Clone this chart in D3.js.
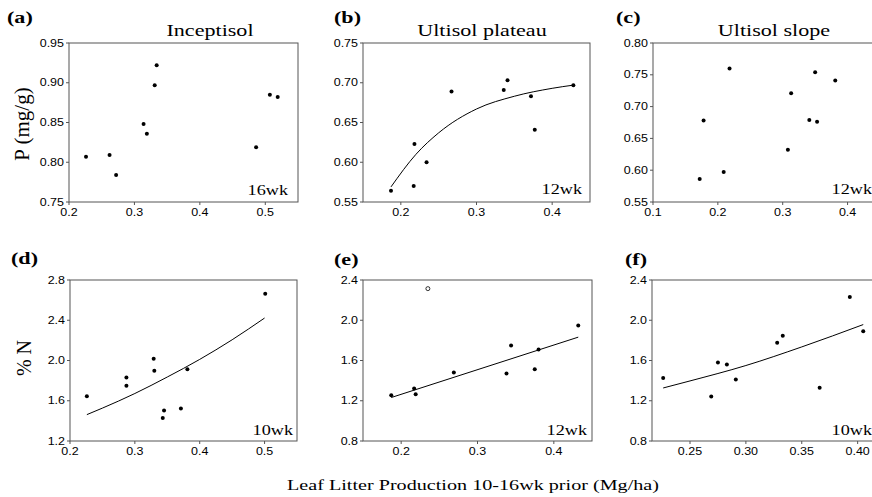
<!DOCTYPE html>
<html>
<head>
<meta charset="utf-8">
<script src="https://cdn.jsdelivr.net/npm/d3@7"></script>
<style>
  body { margin: 0; background: #fff; }
  svg { display: block; }
  .frame { fill: none; stroke: #555; stroke-width: 1; }
  .ticklab { font-family: "Liberation Sans", Arial, sans-serif; fill: #000; }
  .serif { font-family: "Liberation Serif", "Times New Roman", serif; fill: #000; }
  .fit { fill: none; stroke: #000; stroke-width: 1; }
</style>
</head>
<body>
<svg width="872" height="497"></svg>
<script>
// values
var panelLabels = ['(a)', '(b)', '(c)', '(d)', '(e)', '(f)'];
var siteNames = ['Inceptisol', 'Ultisol plateau', 'Ultisol slope'];
var lagLabels = ['16wk', '12wk', '12wk', '10wk', '12wk', '10wk'];

var xDomains = [[0.2, 0.55], [0.15, 0.45], [0.1, 0.45], [0.2, 0.55], [0.15, 0.45], [0.216, 0.42]];
var yDomains = [[0.75, 0.95], [0.55, 0.75], [0.55, 0.80], [1.2, 2.8], [0.8, 2.4], [0.8, 2.4]];
var xTicks = [[0.2, 0.3, 0.4, 0.5], [0.2, 0.3, 0.4], [0.1, 0.2, 0.3, 0.4], [0.2, 0.3, 0.4, 0.5], [0.2, 0.3, 0.4], [0.25, 0.30, 0.35, 0.40]];
var yTicks = [[0.75, 0.80, 0.85, 0.90, 0.95], [0.55, 0.60, 0.65, 0.70, 0.75], [0.55, 0.60, 0.65, 0.70, 0.75, 0.80],
              [1.2, 1.6, 2.0, 2.4, 2.8], [0.8, 1.2, 1.6, 2.0, 2.4], [0.8, 1.2, 1.6, 2.0, 2.4]];
var xFormats = ['.1f', '.1f', '.1f', '.1f', '.1f', '.2f'];
var yFormats = ['.2f', '.2f', '.2f', '.1f', '.1f', '.1f'];

var inceptisolP = [[0.226, 0.807], [0.262, 0.809], [0.272, 0.784], [0.314, 0.848], [0.319, 0.836],
                   [0.331, 0.897], [0.334, 0.922], [0.486, 0.819], [0.507, 0.885], [0.519, 0.882]];
var plateauP = [[0.187, 0.564], [0.217, 0.570], [0.218, 0.623], [0.234, 0.600], [0.267, 0.689],
                [0.336, 0.691], [0.341, 0.703], [0.372, 0.683], [0.377, 0.641], [0.428, 0.697]];
var slopeP = [[0.172, 0.586], [0.178, 0.678], [0.209, 0.597], [0.218, 0.760], [0.308, 0.632],
              [0.313, 0.721], [0.341, 0.679], [0.350, 0.754], [0.353, 0.676], [0.381, 0.741]];
var inceptisolN = [[0.226, 1.645], [0.287, 1.831], [0.287, 1.748], [0.329, 2.017], [0.330, 1.897],
                   [0.343, 1.429], [0.345, 1.502], [0.371, 1.522], [0.381, 1.914], [0.501, 2.664]];
var plateauN = [[0.187, 1.255], [0.217, 1.321], [0.219, 1.265], [0.269, 1.481], [0.338, 1.471],
                [0.344, 1.749], [0.375, 1.514], [0.380, 1.710], [0.432, 1.949]];
var plateauNOutlier = [[0.235, 2.314]];
var slopeN = [[0.226, 1.427], [0.269, 1.243], [0.275, 1.580], [0.283, 1.560], [0.291, 1.410],
              [0.328, 1.777], [0.333, 1.847], [0.366, 1.330], [0.393, 2.230], [0.405, 1.890]];

// fitted curves
var plateauPFit = [[0.187, 0.569], [0.22, 0.610], [0.25, 0.637], [0.30, 0.667], [0.35, 0.683], [0.40, 0.693], [0.428, 0.697]];
var inceptisolNFit = [[0.226, 1.462], [0.25, 1.527], [0.30, 1.672], [0.35, 1.836], [0.40, 2.011], [0.45, 2.206], [0.50, 2.422]];
var plateauNFit = [[0.187, 1.232], [0.432, 1.832]];
var slopeNFit = [[0.226, 1.327], [0.25, 1.397], [0.30, 1.550], [0.35, 1.735], [0.405, 1.957]];

var dotSets = [inceptisolP, plateauP, slopeP, inceptisolN, plateauN, slopeN];
var fitSets = [null, plateauPFit, null, inceptisolNFit, plateauNFit, slopeNFit];

// layout (pixels)
var frames = [
  {l: 69, r: 298, t: 43, b: 202}, {l: 363, r: 590, t: 43, b: 202}, {l: 653, r: 880, t: 43, b: 202},
  {l: 70, r: 297, t: 280, b: 441}, {l: 363, r: 592, t: 280, b: 441}, {l: 652, r: 880, t: 280, b: 441}
];
var labelPos = [[7, 23], [334, 23], [616, 23], [11, 264], [334, 265], [625, 265]];
var lagPos = [[288, 195], [582, 194], [872, 194], [293, 435], [587, 435], [872, 435]];
var titlePos = [[210, 36], [482, 36], [774, 36]];

var svg = d3.select('svg');

function stretchText(g, x, y, txt, cls, size, anchor, weight, sx) {
  return g.append('text')
    .attr('class', cls)
    .attr('transform', 'translate(' + x + ',' + y + ') scale(' + (sx || 1.3) + ',1)')
    .attr('text-anchor', anchor || 'start')
    .style('font-size', size + 'px')
    .style('font-weight', weight || 'normal')
    .text(txt);
}

frames.forEach(function(f, i) {
  var g = svg.append('g');
  var x = d3.scaleLinear().domain(xDomains[i]).range([f.l, f.r]);
  var y = d3.scaleLinear().domain(yDomains[i]).range([f.b, f.t]);

  // outward ticks
  g.selectAll('line.xt').data(xTicks[i]).enter()
    .append('line')
    .attr('x1', function(d) { return x(d); })
    .attr('x2', function(d) { return x(d); })
    .attr('y1', f.b).attr('y2', f.b + 3)
    .attr('stroke', '#555');
  g.selectAll('line.yt').data(yTicks[i]).enter()
    .append('line')
    .attr('y1', function(d) { return y(d); })
    .attr('y2', function(d) { return y(d); })
    .attr('x1', f.l - 3).attr('x2', f.l)
    .attr('stroke', '#555');

  var fx = d3.format(xFormats[i]), fy = d3.format(yFormats[i]);
  xTicks[i].forEach(function(d) {
    stretchText(g, x(d), f.b + 14, fx(d), 'ticklab', 10, 'middle', 'normal', 1.25);
  });
  yTicks[i].forEach(function(d) {
    stretchText(g, f.l - 5, y(d) + 3.6, fy(d), 'ticklab', 10, 'end', 'normal', 1.25);
  });

  g.append('rect')
    .attr('class', 'frame')
    .attr('x', f.l).attr('y', f.t)
    .attr('width', f.r - f.l).attr('height', f.b - f.t);

  if (fitSets[i]) {
    g.append('path')
      .datum(fitSets[i])
      .attr('class', 'fit')
      .attr('d', d3.line()
        .x(function(d) { return x(d[0]); })
        .y(function(d) { return y(d[1]); })
        .curve(d3.curveMonotoneX));
  }

  g.selectAll('circle.pt').data(dotSets[i]).enter()
    .append('circle')
    .attr('cx', function(d) { return x(d[0]); })
    .attr('cy', function(d) { return y(d[1]); })
    .attr('r', 2)
    .attr('fill', '#000');

  if (i === 4) {
    g.selectAll('circle.open').data(plateauNOutlier).enter()
      .append('circle')
      .attr('cx', function(d) { return x(d[0]); })
      .attr('cy', function(d) { return y(d[1]); })
      .attr('r', 2)
      .attr('fill', '#fff')
      .attr('stroke', '#000')
      .attr('stroke-width', 0.8);
  }

  stretchText(g, labelPos[i][0], labelPos[i][1], panelLabels[i], 'serif', 17, 'start', 'bold');
  stretchText(g, lagPos[i][0], lagPos[i][1], lagLabels[i], 'serif', 14, 'end');
  if (i < 3) stretchText(g, titlePos[i][0], titlePos[i][1], siteNames[i], 'serif', 17, 'middle');
});

// axis titles
svg.append('text')
  .attr('class', 'serif')
  .attr('transform', 'translate(29,124) rotate(-90)')
  .attr('text-anchor', 'middle')
  .style('font-size', '21px')
  .text('P (mg/g)');
svg.append('text')
  .attr('class', 'serif')
  .attr('transform', 'translate(31,358) rotate(-90)')
  .attr('text-anchor', 'middle')
  .style('font-size', '20px')
  .text('% N');
stretchText(svg, 473, 490, 'Leaf Litter Production 10-16wk prior (Mg/ha)', 'serif', 15.5, 'middle');
</script>
</body>
</html>
